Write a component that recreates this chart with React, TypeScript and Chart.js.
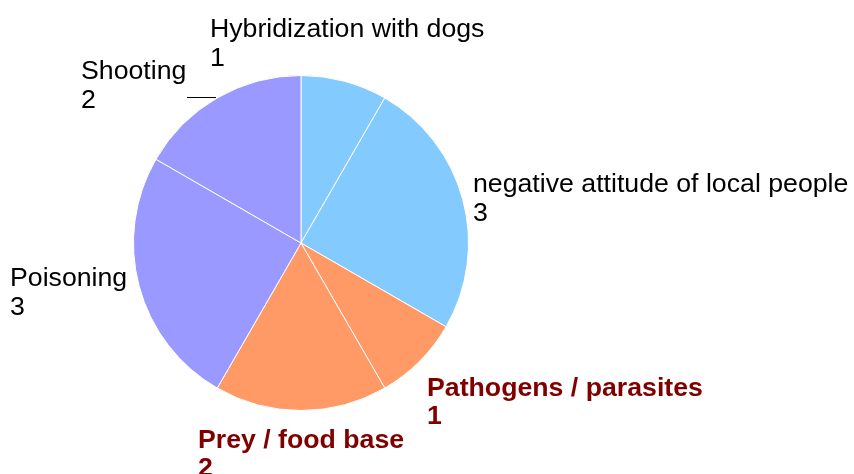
import React, { useEffect, useRef } from "react";
import { Chart, registerables } from "chart.js";

Chart.register(...registerables);

const categories = [
  "Hybridization with dogs",
  "negative attitude of local people",
  "Pathogens / parasites",
  "Prey / food base",
  "Poisoning",
  "Shooting",
];
const values = [1, 3, 1, 2, 3, 2];
const sliceColors = ["#83CAFF", "#83CAFF", "#FF9966", "#FF9966", "#9999FF", "#9999FF"];
const labelColors = ["#000000", "#000000", "#800000", "#800000", "#000000", "#000000"];
const labelBold = [false, false, true, true, false, false];
// label anchor (left x, first-line baseline y) on the canvas
const labelX = [210, 473, 427, 198, 10, 81];
const labelY = [37, 192, 395.5, 447.5, 286, 79];

const FONT_SIZE = 26.7;
const LINE_GAP = 28.5;

const labelPlugin = {
  id: "outerLabels",
  afterDatasetsDraw(chart: any) {
    const ctx = chart.ctx;
    ctx.save();
    ctx.textBaseline = "alphabetic";
    ctx.textAlign = "left";
    categories.forEach((name, i) => {
      ctx.fillStyle = labelColors[i];
      ctx.font = `${labelBold[i] ? "bold " : ""}${FONT_SIZE}px "Liberation Sans", Arial, sans-serif`;
      ctx.fillText(name, labelX[i], labelY[i]);
      ctx.fillText(String(values[i]), labelX[i], labelY[i] + LINE_GAP);
    });
    // leader line for "Shooting"
    ctx.strokeStyle = "#000000";
    ctx.lineWidth = 1;
    ctx.beginPath();
    ctx.moveTo(187, 97.5);
    ctx.lineTo(216, 97.5);
    ctx.stroke();
    ctx.restore();
  },
};

export default function App() {
  const ref = useRef<HTMLCanvasElement | null>(null);
  useEffect(() => {
    if (!ref.current) return;
    const chart = new Chart(ref.current, {
      type: "pie",
      data: {
        labels: categories,
        datasets: [
          {
            data: values,
            backgroundColor: sliceColors,
            borderColor: "#FFFFFF",
            borderWidth: 1,
          },
        ],
      },
      options: {
        responsive: false,
        animation: false,
        layout: { padding: { top: 75, bottom: 63, left: 133, right: 385 } },
        plugins: {
          legend: { display: false },
          tooltip: { enabled: false },
        },
      },
      plugins: [labelPlugin],
    });
    return () => chart.destroy();
  }, []);
  return (
    <div style={{ position: "fixed", left: 0, top: 0, width: 854, height: 474, background: "#fff" }}>
      <canvas ref={ref} width={854} height={474} style={{ width: 854, height: 474 }} />
    </div>
  );
}
